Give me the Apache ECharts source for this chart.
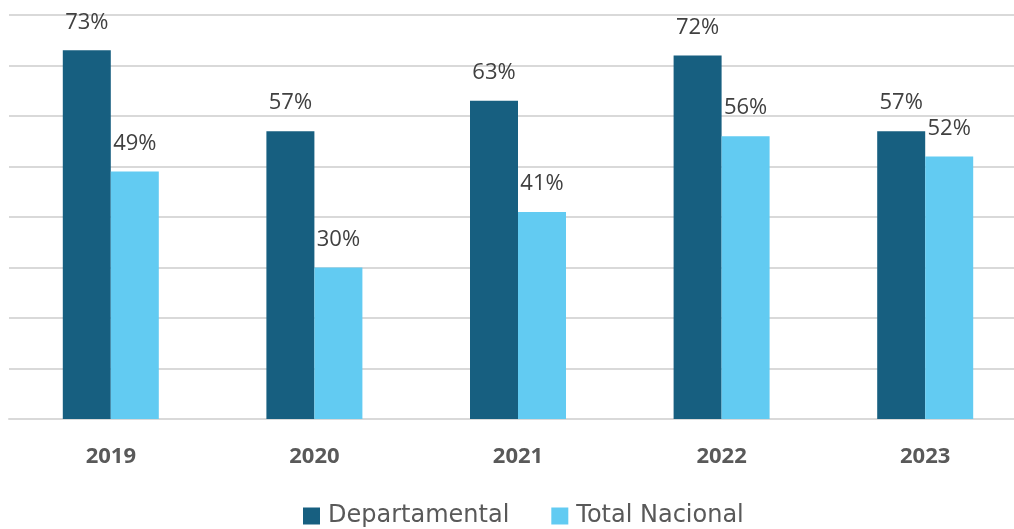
<!DOCTYPE html>
<html><head><meta charset="utf-8">
<script src="https://cdn.jsdelivr.net/npm/echarts@6/dist/echarts.min.js"></script>
<style>html,body{margin:0;padding:0;background:#fff}#c{width:1014px;height:529px}</style>
</head><body><div id="c"></div>
<script>
const categories = ['2019','2020','2021','2022','2023'];
const departamental = [73,57,63,72,57];
const totalNacional = [49,30,41,56,52];
const seriesNames = ['Departamental','Total Nacional'];

const chart = echarts.init(document.getElementById('c'));
const font = '"Open Sans", Inter, sans-serif';
const lbl = {show:true, position:'top', distance:17, formatter:'{c}%', color:'#404040', fontSize:22, fontFamily:font};
chart.setOption({
  animation:false,
  grid:{left:9, top:15, width:1018, height:404, outerBoundsMode:'none'},
  legend:{bottom:-4, left:298, itemWidth:17, itemHeight:17, itemGap:42, icon:'rect',
    textStyle:{color:'#595959', fontSize:24, fontFamily:'"DejaVu Sans", sans-serif', padding:[0,0,0,3]}, data:seriesNames},
  xAxis:{type:'category', data:categories,
    axisLine:{lineStyle:{color:'#d9d9d9', width:2}}, axisTick:{show:false},
    axisLabel:{color:'#595959', fontSize:22, fontWeight:'bold', fontFamily:font, margin:27}},
  yAxis:{type:'value', min:0, max:80, interval:10, axisLabel:{show:false},
    axisLine:{show:false}, axisTick:{show:false},
    splitLine:{lineStyle:{color:'#d9d9d9', width:2}}},
  series:[
    {name:seriesNames[0], type:'bar', data:departamental, barWidth:48, barGap:'0%', itemStyle:{color:'#175F80'}, label:lbl},
    {name:seriesNames[1], type:'bar', data:totalNacional, barWidth:48, itemStyle:{color:'#62CBF2'}, label:lbl}
  ]
});
</script></body></html>
